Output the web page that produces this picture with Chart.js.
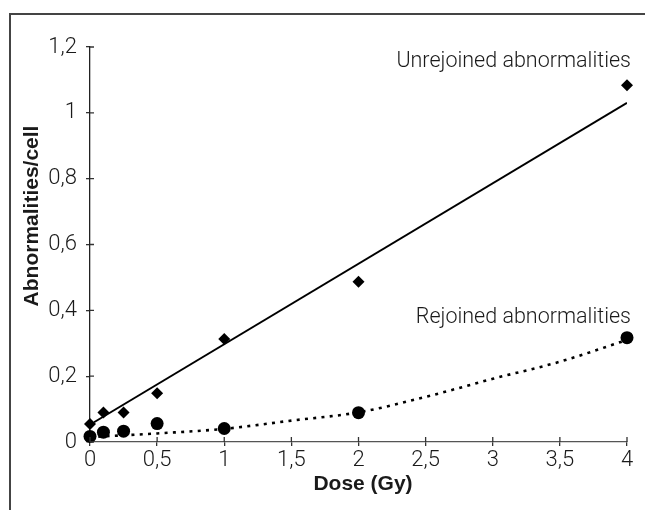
<!DOCTYPE html>
<html>
<head>
<meta charset="utf-8">
<script src="https://cdn.jsdelivr.net/npm/chart.js@4"></script>
<style>
  html, body { margin: 0; padding: 0; background: #fff; }
  #wrap { position: relative; width: 645px; height: 510px; overflow: hidden; }
  #frame {
    position: absolute; left: 9px; top: 13px; width: 700px; height: 600px;
    border-left: 2px solid #444; border-top: 2px solid #444;
    pointer-events: none;
  }
  canvas { position: absolute; left: 0; top: 0; }
</style>
</head>
<body>
<div id="wrap">
  <canvas id="chart" width="645" height="510"></canvas>
  <div id="frame"></div>
</div>
<script>
// ── Data ───────────────────────────────────────────────
const doses        = [0, 0.1, 0.25, 0.5, 1, 2, 4];
const unrejoined   = [0.055, 0.09, 0.09, 0.148, 0.313, 0.487, 1.084];
const rejoined     = [0.017, 0.03, 0.033, 0.056, 0.041, 0.089, 0.317];

// fitted lines as drawn in the figure
const fitDoses     = [0.03, 4];
const fitUnrejoined = [0.06, 1.03];
const curveDoses   = [0, 0.5, 1, 1.5, 2, 2.5, 3, 3.5, 4];
const curveRejoined = [0.015, 0.026, 0.04, 0.065, 0.09, 0.137, 0.192, 0.244, 0.31];

const xTicks = [0, 0.5, 1, 1.5, 2, 2.5, 3, 3.5, 4];
const yTicks = [0, 0.2, 0.4, 0.6, 0.8, 1, 1.2];

const X_TITLE = 'Dose (Gy)';
const Y_TITLE = 'Abnormalities/cell';
const LABEL_UNREJ = 'Unrejoined abnormalities';
const LABEL_REJ   = 'Rejoined abnormalities';

// ── Helpers ────────────────────────────────────────────
const _pts  = (xs, ys) => xs.map((x, i) => ({ x, y: ys[i] }));
const _fmt  = v => String(Math.round(v * 10) / 10).replace('.', ',');
const _INK  = '#1a1a1a';
const _TICK = { color: _INK, font: { family: 'Roboto', size: 22, weight: '300' } };

// cross ticks: chart.js draws the outer half, this draws the inner half
const _innerTicksPlugin = {
  id: 'innerTicks',
  afterDraw(chart) {
    const { ctx, scales: { x, y } } = chart;
    ctx.save();
    ctx.strokeStyle = '#333';
    ctx.lineWidth = 1.3;
    ctx.beginPath();
    for (const v of xTicks) {
      const px = x.getPixelForValue(v);
      ctx.moveTo(px, y.bottom);
      ctx.lineTo(px, y.bottom - 5);
    }
    for (const v of yTicks) {
      const py = y.getPixelForValue(v);
      ctx.moveTo(x.left, py);
      ctx.lineTo(x.left + 4, py);
    }
    ctx.stroke();
    ctx.restore();
  },
};

const _textPlugin = {
  id: 'texts',
  afterDraw(chart) {
    const { ctx, scales: { x, y } } = chart;
    ctx.save();
    ctx.fillStyle = _INK;
    ctx.font = 'bold 21px "Liberation Sans", Arial, sans-serif';
    ctx.textAlign = 'center';
    ctx.textBaseline = 'middle';
    ctx.fillText(X_TITLE, 363, 484);
    ctx.translate(32, 216);
    ctx.rotate(-Math.PI / 2);
    ctx.fillText(Y_TITLE, 0, 0);
    ctx.restore();

    ctx.save();
    ctx.fillStyle = _INK;
    ctx.font = '300 21.5px Roboto, sans-serif';
    ctx.textAlign = 'right';
    ctx.textBaseline = 'middle';
    const xr = x.getPixelForValue(4) + 4;
    ctx.fillText(LABEL_UNREJ, xr, 62);
    ctx.fillText(LABEL_REJ, xr, 318);
    ctx.restore();
  },
};

// ── Chart ──────────────────────────────────────────────
new Chart(document.getElementById('chart'), {
  type: 'scatter',
  data: {
    datasets: [
      {
        label: 'Unrejoined',
        data: _pts(doses, unrejoined),
        pointStyle: 'rectRot',
        pointRadius: 6,
        backgroundColor: '#000',
        borderColor: '#000',
        borderWidth: 0,
        clip: false,
      },
      {
        label: 'Rejoined',
        data: _pts(doses, rejoined),
        pointStyle: 'circle',
        pointRadius: 6.5,
        backgroundColor: '#000',
        borderColor: '#000',
        borderWidth: 0,
        clip: false,
      },
      {
        label: 'Unrejoined fit',
        type: 'line',
        data: _pts(fitDoses, fitUnrejoined),
        borderColor: '#000',
        borderWidth: 2,
        pointRadius: 0,
        showLine: true,
      },
      {
        label: 'Rejoined fit',
        type: 'line',
        data: _pts(curveDoses, curveRejoined),
        borderColor: '#000',
        borderWidth: 2.6,
        borderDash: [3, 5.3],
        cubicInterpolationMode: 'monotone',
        pointRadius: 0,
        showLine: true,
      },
    ],
  },
  options: {
    responsive: false,
    animation: false,
    layout: { padding: { top: 47, right: 18, left: 0, bottom: 0 } },
    plugins: { legend: { display: false }, tooltip: { enabled: false } },
    scales: {
      x: {
        type: 'linear',
        min: 0, max: 4,
        afterBuildTicks: s => { s.ticks = xTicks.map(value => ({ value })); },
        afterFit: s => { s.height = 68; },
        ticks: { ..._TICK, padding: 1, maxRotation: 0, callback: v => _fmt(v) },
        grid: { drawOnChartArea: false, drawTicks: true, tickLength: 4, color: '#333', lineWidth: 1.3 },
        border: { color: '#555', width: 1.3 },
      },
      y: {
        type: 'linear',
        min: 0, max: 1.2,
        afterBuildTicks: s => { s.ticks = yTicks.map(value => ({ value })); },
        afterFit: s => { s.width = 90; },
        ticks: { ..._TICK, padding: 9, callback: v => _fmt(v) },
        grid: { drawOnChartArea: false, drawTicks: true, tickLength: 4, color: '#333', lineWidth: 1.3 },
        border: { color: '#222', width: 1.3 },
      },
    },
  },
  plugins: [_innerTicksPlugin, _textPlugin],
});
</script>
</body>
</html>
